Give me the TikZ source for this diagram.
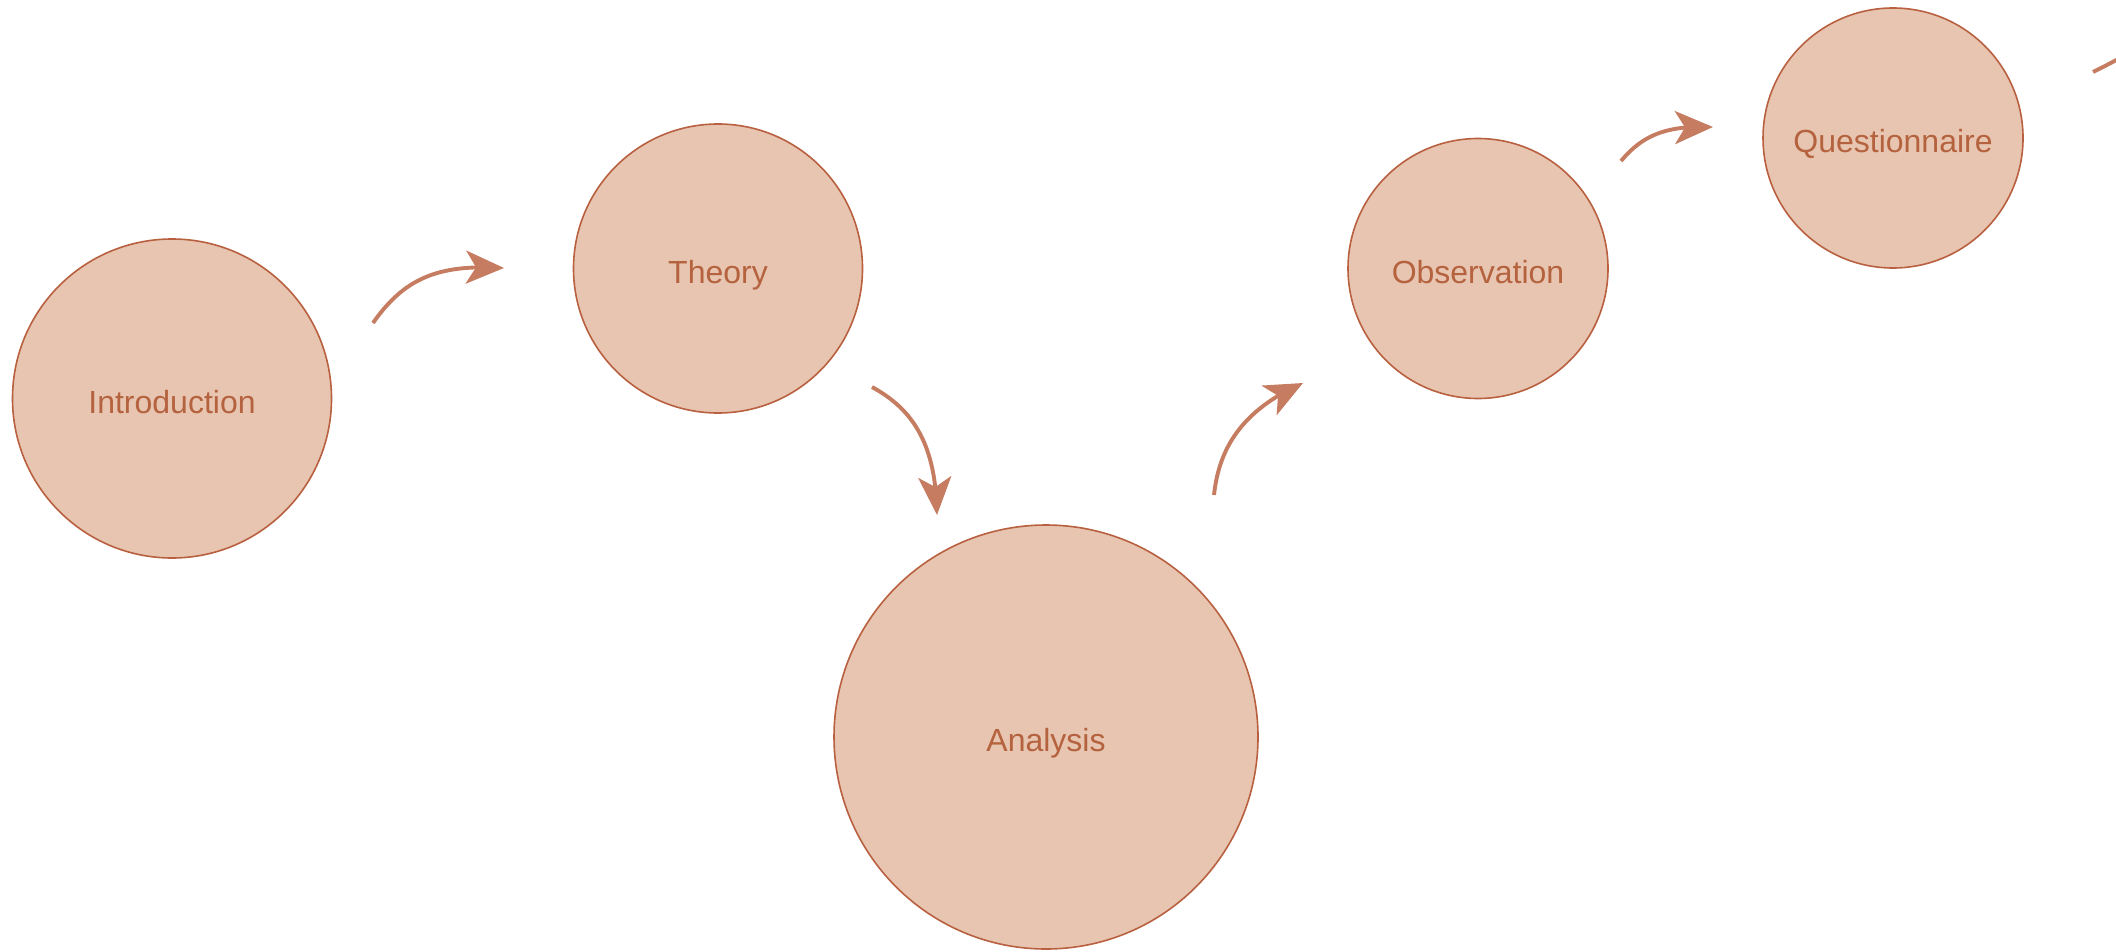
\documentclass[tikz,border=0pt]{standalone}
\usepackage{fontspec}
\setmainfont{Liberation Sans}
\usetikzlibrary{arrows.meta,bending}
\definecolor{circfill}{HTML}{E7C5B0}
\definecolor{circline}{HTML}{B86040}
\definecolor{txt}{HTML}{B5623F}
\definecolor{arrc}{HTML}{C67C60}
\begin{document}
\begin{tikzpicture}[x=1pt,y=-1pt,
  stage/.style={circle, draw=circline, line width=1.6pt, fill=circfill, inner sep=0pt,
    text=txt, font=\fontsize{32}{38}\selectfont, text height=23pt, text depth=0pt},
  lbl/.style={text=txt, font=\fontsize{32}{38}\selectfont, text height=23pt, text depth=0pt, inner sep=0pt, yshift=-3pt},
  flow/.style={draw=arrc, line width=3.9pt, -{Stealth[length=38pt,width=33pt,inset=10pt,flex]}}]
\clip (0,0) rectangle (2116,952);
\node[stage, minimum size=319pt] (intro) at (172,398.5) {};
\node[stage, minimum size=289pt] (theory) at (718,268.5) {};
\node[stage, minimum size=424pt] (analysis) at (1046,737) {};
\node[stage, minimum size=260pt] (obs) at (1478,268.5) {};
\node[stage, minimum size=260pt] (quest) at (1893,138) {};
\node[lbl] (introt) at (intro) {Introduction};
\node[lbl] (theoryt) at (theory) {Theory};
\node[lbl] (analysist) at (analysis) {Analysis};
\node[lbl] (obst) at (obs) {Observation};
\node[lbl] (questt) at (quest) {Questionnaire};
\coordinate (a1s) at (373,323); \coordinate (a1e) at (504,268);
\coordinate (a2s) at (872,387); \coordinate (a2e) at (937,515);
\coordinate (a3s) at (1214,495); \coordinate (a3e) at (1303,383);
\coordinate (a4s) at (1621,161); \coordinate (a4e) at (1713,127);
\coordinate (a5s) at (2093,72); \coordinate (a5e) at (2185,28);
\draw[flow] (a1s) .. controls (405,277) and (440,264) .. (a1e);
\draw[flow] (a2s) .. controls (910,408) and (936,440) .. (a2e);
\draw[flow] (a3s) .. controls (1219,448) and (1242,410) .. (a3e);
\draw[flow] (a4s) .. controls (1642,136) and (1665,125) .. (a4e);
\draw[flow] (a5s) .. controls (2120,59) and (2150,40) .. (a5e);
\end{tikzpicture}
\end{document}
